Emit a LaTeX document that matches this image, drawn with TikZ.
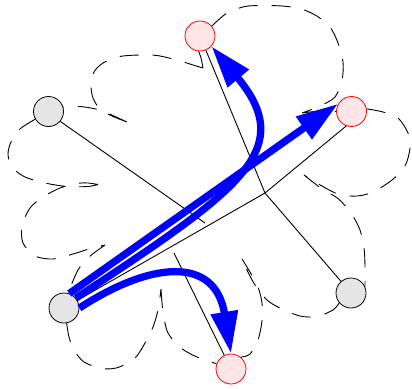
\documentclass[tikz,border=0pt]{standalone}
\usetikzlibrary{arrows.meta}
\tikzset{
  graynode/.style={circle, draw=black, fill=gray!20, line width=0.8pt, minimum size=30pt, inner sep=0pt},
  rednode/.style={circle, draw=red, fill=red!10, line width=0.8pt, minimum size=30pt, inner sep=0pt},
  solidedge/.style={line width=0.9pt},
  dashedge/.style={line width=0.9pt, dash pattern=on 19pt off 14pt},
  bluearrow/.style={draw=blue, line width=7.3pt, -{Triangle[length=42pt,width=26pt]}},
}
\begin{document}
\begin{tikzpicture}[x=1pt,y=-1pt]
\useasboundingbox (0,0) rectangle (412,388);
% nodes
\node[graynode] (A) at (48.5,111.5) {};
\node[graynode] (B) at (64,308) {};
\node[graynode] (C) at (351,293) {};
\node[rednode] (D) at (200,36) {};
\node[rednode] (E) at (351.5,111.5) {};
\node[rednode] (F) at (231,369) {};
\coordinate (J) at (265,193);
\coordinate (p1) at (205,223);
\coordinate (p2) at (174,253);
% dashed curves
\draw[dashedge]
  plot[smooth] coordinates {(A.-150) (20,129) (11,142) (8,155) (13,168) (25,177) (45,183) (67,186.5) (88,186.5) (98,184.5)}
  plot[smooth] coordinates {(98,184.5) (88,183) (77,183.5) (60,188) (43,197) (30,208) (22,226) (23,243) (35,256) (53,259) (73,254) (89,249) (105,245)}
  plot[smooth] coordinates {(105,245) (89,257) (78,270) (B.75)};
\draw[dashedge]
  plot[smooth] coordinates {(D.-95) (201,58) (203,68)}
  plot[smooth] coordinates {(203,68) (193,65) (177,60) (157,55.5) (140,55) (120,56.5) (103,63) (94,72) (91,85) (93,98) (100,109) (112,116) (127,122)}
  plot[smooth] coordinates {(127,122) (115,116.5) (100,110) (80,106.5) (A.15)};
\draw[dashedge]
  plot[smooth] coordinates {(D.40) (227,13) (245,6.5) (263,5.5) (282,6) (300,8.5) (316,15.5) (330,27) (338,43) (343,62) (342,80) (335,97) (320,106) (302,113)}
  plot[smooth] coordinates {(302,113) (320,111) (E.180)};
\draw[dashedge]
  plot[smooth] coordinates {(E.10) (383,112) (398,118) (408,133) (410,148) (405,166) (392,180) (373,192) (357,196) (339,194.5) (322,186) (304,175)}
  plot[smooth] coordinates {(304,175) (322,189) (338,198.5) (351,213) (360,230) (364,248) (365,266) (C.25)};
\draw[dashedge]
  plot[smooth] coordinates {(C.-140) (333,310) (317,316.5) (300,316) (280,308) (267,300) (255,285) (247,270) (242,259)}
  plot[smooth] coordinates {(242,259) (250,272) (258,287) (262,303) (262,321) (258,340) (250,354) (F.50)};
\draw[dashedge]
  plot[smooth] coordinates {(B.-80) (69,337) (74,350) (84,362) (102,368.5) (118,367.5) (135,358) (145,343) (153,327) (158,310) (161,289)}
  plot[smooth] coordinates {(161,289) (163,312) (168,333) (181,348) (197,357) (F.160)};
% solid lines
\draw[solidedge] (A.-40) -- (p1);
\draw[solidedge] (p2) -- (F);
\draw[solidedge] (D) -- (J) -- (C);
\draw[solidedge] (E.-110) -- (J) -- (B);
% blue arrows
\draw[bluearrow] (B.70) -- (E.150);
\draw[bluearrow] (B.40) .. controls (240,190) and (298,150) .. (D.-42);
\draw[bluearrow] (B.0) .. controls (150,262) and (215,255) .. (F.90);
\end{tikzpicture}
\end{document}
